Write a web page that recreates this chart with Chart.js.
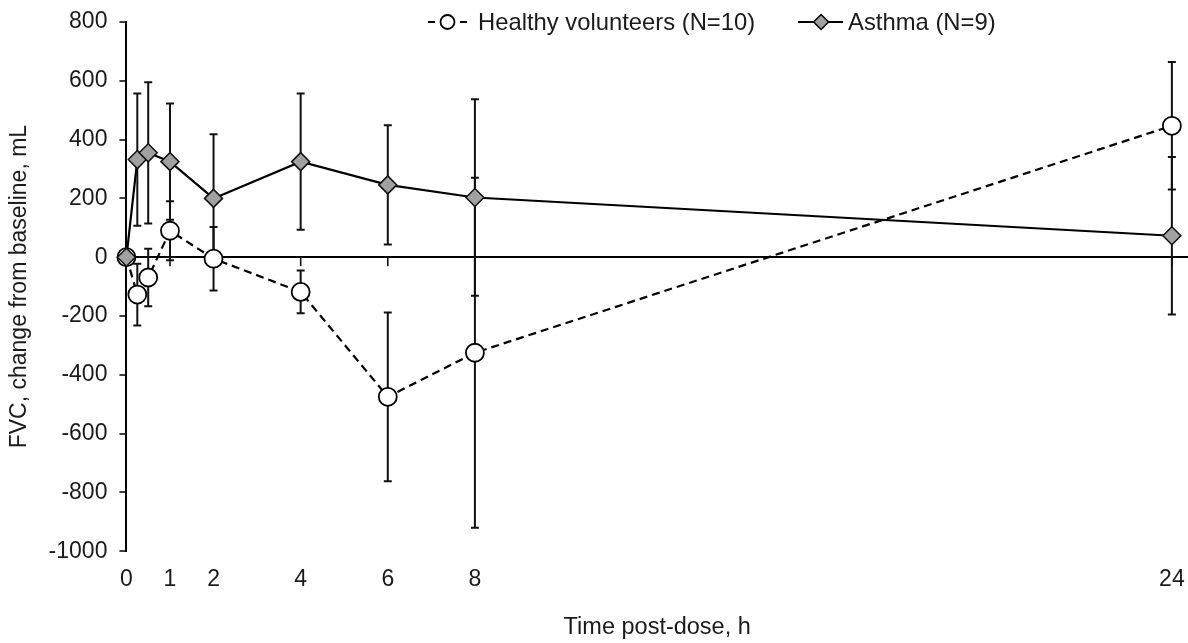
<!DOCTYPE html>
<html>
<head>
<meta charset="utf-8">
<script src="https://cdn.jsdelivr.net/npm/chart.js@4.4.1/dist/chart.umd.min.js"></script>
<style>
  html, body { margin: 0; padding: 0; background: #fff; }
  #wrap { width: 1188px; height: 643px; }
</style>
</head>
<body>
<div id="wrap"><canvas id="fvcChart"></canvas></div>
<script>
// time points (h) and FVC change from baseline (mL), mean and SD
var timePoints = [0, 0.25, 0.5, 1, 2, 4, 6, 8, 24];
var healthyMean = [0, -127, -69, 90, -5, -118, -475, -325, 447];
var healthySD = [0, 105, 98, 100, 108, 73, 287, 595, 217];
var asthmaMean = [0, 332, 355, 325, 200, 325, 246, 203, 73];
var asthmaSD = [0, 225, 240, 198, 218, 232, 203, 334, 268];
var xTickValues = [0, 1, 2, 4, 6, 8, 24];
var legendLabels = ['Healthy volunteers (N=10)', 'Asthma (N=9)'];

var FONT = 'Liberation Sans';
var TEXT = '#1a1a1a';

function toPoints(means) {
    return timePoints.map(function (t, i) { return { x: t, y: means[i] }; });
}

// error bars + tick marks on the zero line, under the markers
var errorBars = {
    id: 'errorBars',
    beforeDatasetsDraw: function (chart) {
        var ctx = chart.ctx, xs = chart.scales.x, ys = chart.scales.y;
        ctx.save();
        ctx.strokeStyle = '#111';
        ctx.lineWidth = 1.6;
        var y0 = ys.getPixelForValue(0);
        xTickValues.forEach(function (v) {
            var px = xs.getPixelForValue(v);
            ctx.beginPath();
            ctx.moveTo(px, y0);
            ctx.lineTo(px, y0 + 9);
            ctx.stroke();
        });
        ctx.lineWidth = 2;
        chart.data.datasets.forEach(function (ds) {
            if (!ds.errors) return;
            ds.data.forEach(function (p, i) {
                var sd = ds.errors[i];
                if (!sd) return;
                var px = xs.getPixelForValue(p.x);
                var top = ys.getPixelForValue(p.y + sd);
                var bot = ys.getPixelForValue(p.y - sd);
                ctx.beginPath();
                ctx.moveTo(px, top); ctx.lineTo(px, bot);
                ctx.moveTo(px - 4, top); ctx.lineTo(px + 4, top);
                ctx.moveTo(px - 4, bot); ctx.lineTo(px + 4, bot);
                ctx.stroke();
            });
        });
        ctx.restore();
    }
};

// legend with line + marker symbols
var lineLegend = {
    id: 'lineLegend',
    afterDraw: function (chart) {
        var ctx = chart.ctx;
        var y = 22;
        var x = 428;
        ctx.save();
        ctx.font = '23.8px "' + FONT + '"';
        ctx.textBaseline = 'middle';
        ctx.fillStyle = TEXT;
        ctx.strokeStyle = '#000';

        // healthy: - o -
        ctx.lineWidth = 2;
        ctx.beginPath();
        ctx.moveTo(x, y); ctx.lineTo(x + 7, y);
        ctx.moveTo(x + 32, y); ctx.lineTo(x + 39, y);
        ctx.stroke();
        ctx.beginPath();
        ctx.arc(x + 19.5, y, 7, 0, Math.PI * 2);
        ctx.fillStyle = '#fff';
        ctx.fill();
        ctx.lineWidth = 1.8;
        ctx.stroke();
        ctx.fillStyle = TEXT;
        x += 50;
        ctx.fillText(legendLabels[0], x, y + 1);
        x += ctx.measureText(legendLabels[0]).width + 43;

        // asthma: --<>--
        ctx.lineWidth = 2;
        ctx.beginPath();
        ctx.moveTo(x, y); ctx.lineTo(x + 45, y);
        ctx.stroke();
        var cx = x + 23, r = 7.5;
        ctx.beginPath();
        ctx.moveTo(cx - r, y); ctx.lineTo(cx, y - r);
        ctx.lineTo(cx + r, y); ctx.lineTo(cx, y + r);
        ctx.closePath();
        ctx.fillStyle = '#a0a0a0';
        ctx.fill();
        ctx.lineWidth = 1.5;
        ctx.stroke();
        ctx.fillStyle = TEXT;
        ctx.fillText(legendLabels[1], x + 50, y + 1);
        ctx.restore();
    }
};

new Chart(document.getElementById('fvcChart'), {
    type: 'line',
    data: {
        datasets: [
            {
                label: legendLabels[0],
                data: toPoints(healthyMean),
                errors: healthySD,
                borderColor: '#000',
                borderWidth: 2.2,
                borderDash: [8, 5],
                pointStyle: 'circle',
                pointRadius: 9,
                pointHoverRadius: 9,
                pointBackgroundColor: '#fff',
                pointBorderColor: '#000',
                pointBorderWidth: 1.8,
                tension: 0,
                clip: false,
                order: 1
            },
            {
                label: legendLabels[1],
                data: toPoints(asthmaMean),
                errors: asthmaSD,
                borderColor: '#000',
                borderWidth: 2.2,
                pointStyle: 'rectRot',
                pointRadius: 9,
                pointHoverRadius: 9,
                pointBackgroundColor: '#a0a0a0',
                pointBorderColor: '#111',
                pointBorderWidth: 1.5,
                tension: 0,
                clip: false,
                order: 0
            }
        ]
    },
    options: {
        responsive: true,
        maintainAspectRatio: false,
        animation: false,
        events: [],
        layout: {
            autoPadding: false,
            padding: { top: 22, left: 0, right: 0, bottom: 0 }
        },
        plugins: {
            legend: { display: false },
            tooltip: { enabled: false }
        },
        scales: {
            x: {
                type: 'linear',
                min: 0,
                max: 24.37,
                afterBuildTicks: function (axis) {
                    axis.ticks = xTickValues.map(function (v) { return { value: v }; });
                },
                afterFit: function (axis) { axis.paddingRight = 0; },
                border: { display: false },
                grid: { display: false, drawTicks: false },
                ticks: {
                    autoSkip: false,
                    maxRotation: 0,
                    padding: 15,
                    color: TEXT,
                    font: { family: FONT, size: 23 },
                    callback: function (v) { return String(v); }
                },
                title: {
                    display: true,
                    text: 'Time post-dose, h',
                    color: TEXT,
                    font: { family: FONT, size: 23.5 },
                    padding: { top: 5, bottom: 1 }
                }
            },
            y: {
                min: -1000,
                max: 800,
                afterFit: function (axis) { axis.paddingTop = 0; axis.paddingBottom = 0; },
                border: { display: true, color: '#000', width: 2 },
                grid: {
                    color: function (c) { return c.tick && c.tick.value === 0 ? '#000' : 'rgba(0,0,0,0)'; },
                    lineWidth: 2,
                    tickColor: '#000',
                    tickWidth: 1.5,
                    tickLength: 7
                },
                ticks: {
                    stepSize: 200,
                    padding: 12,
                    color: TEXT,
                    font: { family: FONT, size: 23 },
                    callback: function (v) { return String(v); }
                },
                title: {
                    display: true,
                    text: 'FVC, change from baseline, mL',
                    color: TEXT,
                    font: { family: FONT, size: 23 },
                    padding: { top: 6, bottom: 3 }
                }
            }
        }
    },
    plugins: [errorBars, lineLegend]
});
</script>
</body>
</html>
